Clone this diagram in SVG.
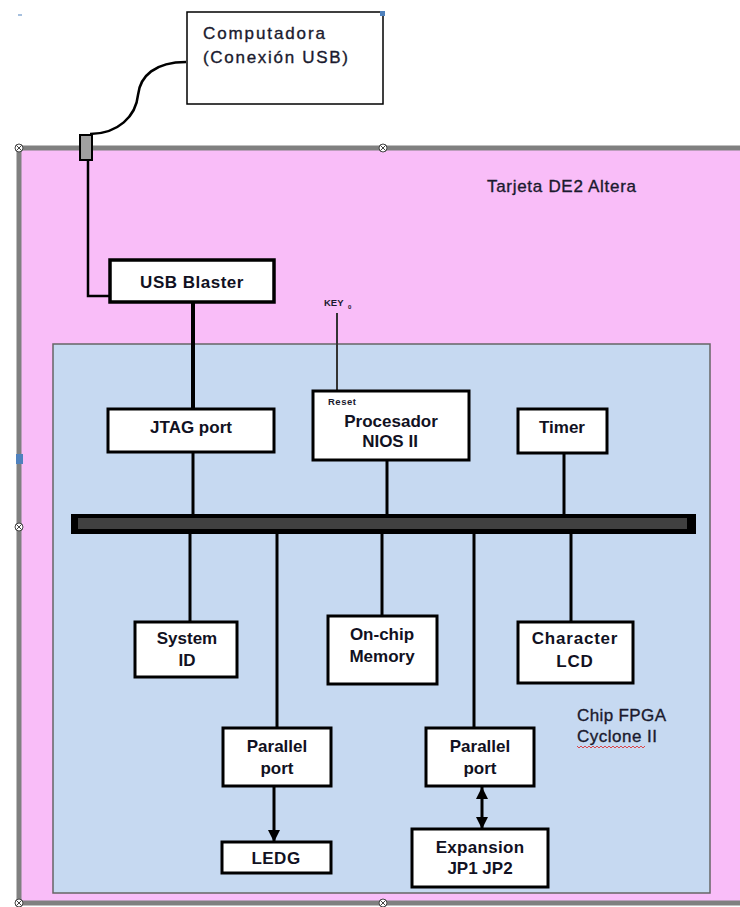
<svg xmlns="http://www.w3.org/2000/svg" width="740" height="907" viewBox="0 0 740 907">
<style>
.box{fill:#fff;stroke:#000;stroke-width:3}
.lbl{font-family:"Liberation Sans",Arial,sans-serif;font-weight:bold;font-size:17px;fill:#111122;text-anchor:middle}
.txt{font-family:"Liberation Sans",Arial,sans-serif;font-size:17px;fill:#1a1a2e;stroke:#1a1a2e;stroke-width:0.35}
.wire{stroke:#000;stroke-width:3;fill:none}
.hdl{fill:#fff;stroke:#444;stroke-width:1}
</style>
<defs>
<marker id="ah" viewBox="0 0 12 12" refX="12" refY="6" markerWidth="12" markerHeight="12" markerUnits="userSpaceOnUse" orient="auto-start-reverse">
<path d="M0,0 L12,6 L0,12 z" fill="#000"/>
</marker>
<g id="hx"><circle r="4" class="hdl"/><path d="M-2.8,-2.8 L2.8,2.8 M-2.8,2.8 L2.8,-2.8" stroke="#444" stroke-width="1"/></g>
</defs>
<rect width="740" height="907" fill="#fff"/>
<g id="tarjeta">
<rect x="19" y="148" width="725" height="755" fill="#F9BDF8"/>
<path d="M19,148 H740 M19,148 V903 M19,903 H740" stroke="#808080" stroke-width="5" fill="none"/>
<text class="txt" x="487" y="192" font-size="16.5" textLength="149" lengthAdjust="spacing">Tarjeta DE2 Altera</text>
</g>
<g id="fpga">
<rect x="53" y="344" width="657" height="549" fill="#C6D9F1" stroke="#666" stroke-width="1.5"/>
<text class="txt" x="577" y="721" textLength="89" lengthAdjust="spacing">Chip FPGA</text>
<text class="txt" x="577" y="742" textLength="80" lengthAdjust="spacing">Cyclone II</text>
<polyline points="577,746 579,748 581,746 583,748 585,746 587,748 589,746 591,748 593,746 595,748 597,746 599,748 601,746 603,748 605,746 607,748 609,746 611,748 613,746 615,748 617,746 619,748 621,746 623,748 625,746 627,748 629,746 631,748 633,746 635,748 637,746 639,748 641,746 643,748 645,746" fill="none" stroke="#e02020" stroke-width="0.8"/>
</g>
<g id="connectors">
<path d="M186,62 C155,62 140,76 138,95 C136,116 118,134 90,134" stroke="#000" stroke-width="2.5" fill="none"/>
<path d="M88,161 V296 H139" stroke="#000" stroke-width="2.5" fill="none"/>
<line x1="193" y1="302" x2="193" y2="408" stroke="#000" stroke-width="4"/>
<line x1="337" y1="313" x2="337" y2="391" stroke="#333" stroke-width="2"/>
<line class="wire" x1="193" y1="452" x2="193" y2="514"/>
<line class="wire" x1="387" y1="460" x2="387" y2="514"/>
<line class="wire" x1="564" y1="453" x2="564" y2="514"/>
<line class="wire" x1="190" y1="534" x2="190" y2="622"/>
<line class="wire" x1="277" y1="534" x2="277" y2="728"/>
<line class="wire" x1="382" y1="534" x2="382" y2="616"/>
<line class="wire" x1="474" y1="534" x2="474" y2="728"/>
<line class="wire" x1="571" y1="534" x2="571" y2="622"/>
<line class="wire" x1="274" y1="787" x2="274" y2="842" marker-end="url(#ah)"/>
<line class="wire" x1="482" y1="787" x2="482" y2="829" marker-start="url(#ah)" marker-end="url(#ah)"/>
</g>
<g id="computadora">
<rect x="187" y="12" width="196" height="92" fill="#fff" stroke="#000" stroke-width="1.5"/>
<text class="txt" x="203" y="39" font-size="18" textLength="122" lengthAdjust="spacing">Computadora</text>
<text class="txt" x="203" y="63" font-size="18" textLength="145" lengthAdjust="spacing">(Conexión USB)</text>
</g>
<g id="usb-plug">
<rect x="80" y="135" width="12" height="25" fill="#a0a0a0" stroke="#000" stroke-width="2"/>
</g>
<g id="usb-blaster">
<rect x="110" y="260" width="164" height="42" fill="#fff" stroke="#000" stroke-width="3.5"/>
<text class="lbl" x="192" y="288" font-size="21" letter-spacing="0.5">USB Blaster</text>
</g>
<g id="key0">
<text x="324" y="306" font-family="Liberation Sans,Arial,sans-serif" font-weight="bold" font-size="9.5" fill="#1a1a2e">KEY</text>
<text x="348" y="309" font-family="Liberation Sans,Arial,sans-serif" font-weight="bold" font-size="6" fill="#1a1a2e">0</text>
</g>
<g id="jtag">
<rect class="box" x="108" y="409" width="166" height="43"/>
<text class="lbl" x="191" y="433">JTAG port</text>
</g>
<g id="procesador">
<rect class="box" x="313" y="391" width="156" height="69"/>
<text x="328" y="405" font-family="Liberation Sans,Arial,sans-serif" font-weight="bold" font-size="9.5" letter-spacing="0.5" fill="#1a1a2e">Reset</text>
<text class="lbl" x="391" y="427">Procesador</text>
<text class="lbl" x="390" y="447">NIOS II</text>
</g>
<g id="timer">
<rect class="box" x="518" y="409" width="89" height="44"/>
<text class="lbl" x="562" y="433">Timer</text>
</g>
<g id="bus">
<rect x="71" y="514" width="625" height="20" fill="#000"/>
<rect x="78" y="518" width="609" height="11" fill="#404040"/>
</g>
<g id="system-id">
<rect class="box" x="135" y="622" width="102" height="55"/>
<text class="lbl" x="187" y="644">System</text>
<text class="lbl" x="187" y="666">ID</text>
</g>
<g id="onchip">
<rect class="box" x="328" y="616" width="109" height="68"/>
<text class="lbl" x="382" y="640">On-chip</text>
<text class="lbl" x="382" y="662">Memory</text>
</g>
<g id="lcd">
<rect class="box" x="518" y="622" width="115" height="61"/>
<text class="lbl" x="575" y="644" letter-spacing="0.8">Character</text>
<text class="lbl" x="575" y="667" letter-spacing="0.8">LCD</text>
</g>
<g id="parallel1">
<rect class="box" x="223" y="728" width="108" height="58"/>
<text class="lbl" x="277" y="752">Parallel</text>
<text class="lbl" x="277" y="774">port</text>
</g>
<g id="parallel2">
<rect class="box" x="426" y="728" width="108" height="58"/>
<text class="lbl" x="480" y="752">Parallel</text>
<text class="lbl" x="480" y="774">port</text>
</g>
<g id="ledg">
<rect class="box" x="222" y="842" width="109" height="31"/>
<text class="lbl" x="276" y="864" letter-spacing="0.5">LEDG</text>
</g>
<g id="expansion">
<rect class="box" x="412" y="829" width="136" height="58"/>
<text class="lbl" x="480" y="853" letter-spacing="0.3">Expansion</text>
<text class="lbl" x="480" y="874">JP1 JP2</text>
</g>
<g id="handles">
<use href="#hx" x="19" y="148"/>
<use href="#hx" x="383" y="148"/>
<use href="#hx" x="19" y="527"/>
<use href="#hx" x="19" y="903"/>
<use href="#hx" x="383" y="903"/>
<rect x="16" y="454" width="7" height="10" fill="#4F81BD"/>
<rect x="380" y="11" width="5" height="5" fill="#4F81BD"/>
<line x1="18" y1="15" x2="22" y2="15" stroke="#4F81BD" stroke-width="1"/>
</g>
</svg>
